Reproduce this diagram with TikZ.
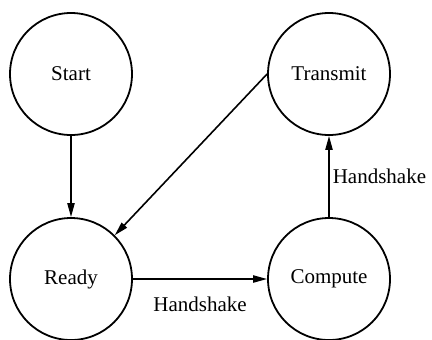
\documentclass[tikz,border=0pt]{standalone}
\usepackage{fontspec}
\setmainfont{Liberation Serif}
\usetikzlibrary{arrows.meta}
\begin{document}
\begin{tikzpicture}[x=0.5pt,y=-0.5pt,
  state/.style={draw,circle,line width=0.9pt,minimum size=61pt,inner sep=0pt,font=\fontsize{10.5}{12}\selectfont},
  conn/.style={line width=0.8pt,-{Triangle[length=7pt,width=3.6pt]}},
  lbl/.style={font=\fontsize{10.5}{12}\selectfont}]
\useasboundingbox (0,0) rectangle (432,339);
\node[state] (start) at (71,74) {Start};
\node[state] (transmit) at (329,74) {Transmit};
\node[state] (ready) at (71,279) {Ready};
\node[state] (compute) at (329,279) {Compute};
\draw[conn] (start.south) -- (ready.north);
\draw[conn] (transmit.west) -- (ready.45);
\draw[conn] (ready.east) -- node[lbl,midway,below=5pt] {Handshake} (compute.west);
\draw[conn] (compute.north) -- node[lbl,midway,right,inner sep=1.5pt] {Handshake} (transmit.south);
\end{tikzpicture}
\end{document}
